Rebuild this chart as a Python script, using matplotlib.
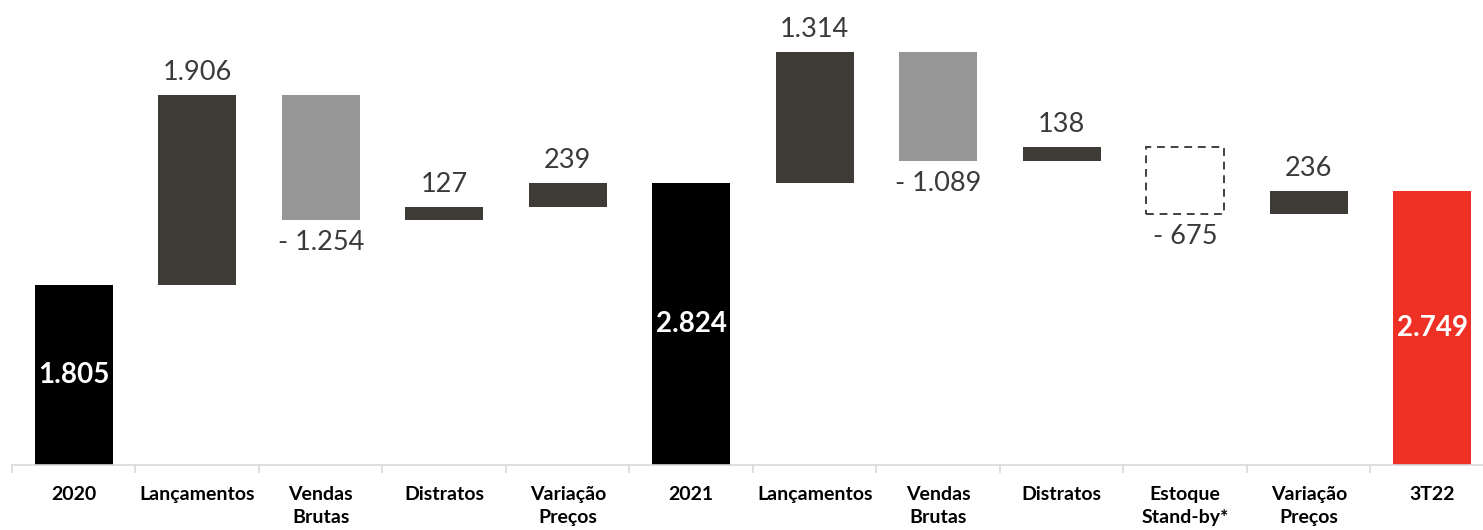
import matplotlib.pyplot as plt
import numpy as np

categories = ['2020', 'Lançamentos', 'Vendas\nBrutas', 'Distratos', 'Variação\nPreços',
              '2021', 'Lançamentos', 'Vendas\nBrutas', 'Distratos', 'Estoque\nStand-by*',
              'Variação\nPreços', '3T22']
values = [1805, 1906, -1254, 127, 239, 2824, 1314, -1089, 138, -675, 236, 2749]
kinds = ['total', 'up', 'down', 'up', 'up', 'total', 'up', 'down', 'up', 'standby', 'up', 'final']

colors = {'total': '#000000', 'up': '#3f3b37', 'down': '#969696', 'standby': 'none', 'final': '#ee3124'}

plt.rcParams['font.family'] = ['Lato', 'DejaVu Sans']

fig = plt.figure(figsize=(14.83, 5.30), dpi=100)
ax = fig.add_axes([12 / 1483, 65 / 530, 1482 / 1483, 465 / 530])

x = np.arange(len(categories))
width = 0.632
level = 0
for i, (v, k) in enumerate(zip(values, kinds)):
    if k in ('total', 'final'):
        bottom, height = 0, v
        level = v
    else:
        bottom = level if v > 0 else level + v
        height = abs(v)
        level += v
    if k == 'standby':
        ax.bar(x[i], height, width, bottom=bottom, facecolor='none',
               edgecolor='#404040', linestyle=(0, (4, 3)), linewidth=1.4)
    else:
        ax.bar(x[i], height, width, bottom=bottom, color=colors[k])

    if k in ('total', 'final'):
        ax.text(x[i], v / 2, f'{v:,}'.replace(',', '.'), ha='center', va='center',
                color='white', fontsize=20, fontweight='bold')
    elif v > 0:
        ax.text(x[i], bottom + height + 100, f'{v:,}'.replace(',', '.'),
                ha='center', va='bottom', color='#3a3a3a', fontsize=19.5)
    else:
        ax.text(x[i], bottom - 100, '- ' + f'{abs(v):,}'.replace(',', '.'),
                ha='center', va='top', color='#3a3a3a', fontsize=19.5)

ax.set_xlim(-0.5, len(categories) - 0.5)
ax.set_ylim(0, 4660)
ax.set_yticks([])
for s in ['top', 'right', 'left']:
    ax.spines[s].set_visible(False)
ax.spines['bottom'].set_color('#d9d9d9')
ax.spines['bottom'].set_linewidth(1.2)

ax.set_xticks(x)
ax.set_xticklabels(categories, fontsize=14, fontweight='bold', linespacing=1.45)
ax.tick_params(axis='x', length=0, pad=15)
ax.set_xticks(np.arange(-0.5, len(categories), 1), minor=True)
ax.tick_params(axis='x', which='minor', length=6, color='#d9d9d9', width=1.2, direction='out')

fig.savefig('out.png', dpi=100)
